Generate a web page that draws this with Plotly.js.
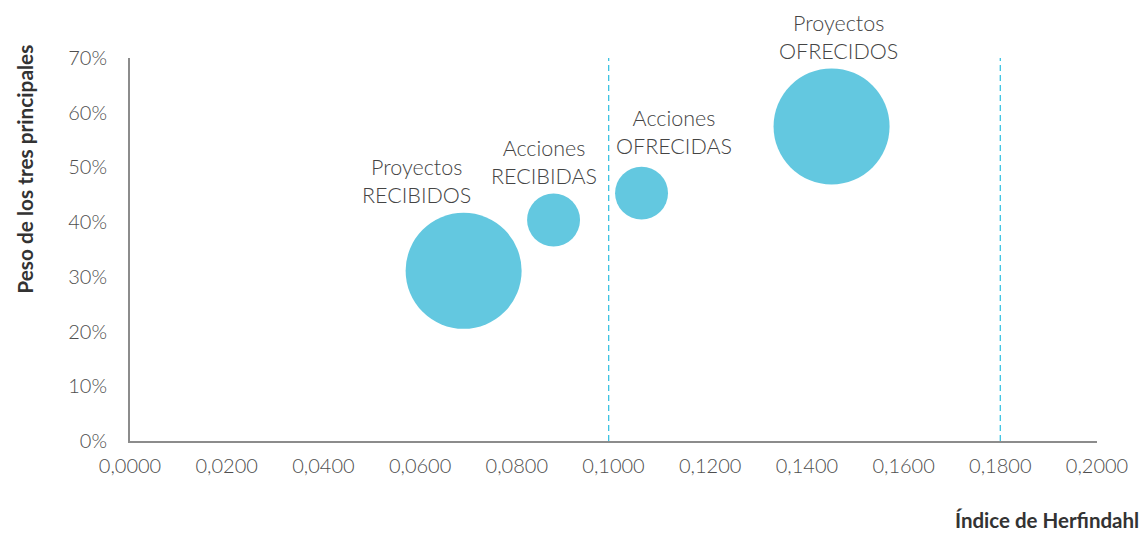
<!DOCTYPE html>
<html><head><meta charset="utf-8">
<script src="https://cdn.plot.ly/plotly-3.0.1.min.js"></script>
<style>html,body{margin:0;padding:0;background:#fff;}#chart{width:1147px;height:535px;}</style>
</head><body><div id="chart"></div>
<script>
// Data
const nombres = ["Proyectos<br>RECIBIDOS", "Acciones<br>RECIBIDAS", "Acciones<br>OFRECIDAS", "Proyectos<br>OFRECIDOS"];
const herfindahl = [0.0690, 0.0876, 0.1058, 0.1451];
const pesoTres = [0.311, 0.404, 0.453, 0.575];
const volumen = [48, 10, 10, 48];
const umbrales = [0.099, 0.18];
const xTicks = [0, 0.02, 0.04, 0.06, 0.08, 0.1, 0.12, 0.14, 0.16, 0.18, 0.2];
const yTicks = [0, 0.1, 0.2, 0.3, 0.4, 0.5, 0.6, 0.7];

// label offsets (px) relative to bubble centres
const labelShiftX = [-47, -10, 32, 7];
const labelShiftY = [90, 58, 61, 89];

const fmtX = v => v.toFixed(4).replace('.', ',');
const fmtY = v => Math.round(v * 100) + '%';

const maxDiam = 116;
const traces = [];
umbrales.forEach(u => traces.push({
  x: [u, u], y: [0, 0.7], mode: 'lines', hoverinfo: 'skip', showlegend: false,
  line: {color: '#3cc3e2', width: 1.3, dash: '6px,4px'}
}));
traces.push({
  x: herfindahl, y: pesoTres, mode: 'markers', showlegend: false,
  marker: {
    size: volumen, sizemode: 'area',
    sizeref: 2 * Math.max(...volumen) / (maxDiam * maxDiam),
    color: '#63c8e0', opacity: 1, line: {width: 0}
  }
});

const font = {family: 'Lato, "Open Sans", sans-serif', size: 20, color: '#4e4e4e', weight: 300};

const annotations = nombres.map((n, i) => ({
  x: herfindahl[i], y: pesoTres[i], xref: 'x', yref: 'y', text: n, showarrow: false,
  xshift: labelShiftX[i], yshift: labelShiftY[i], align: 'center',
  font: {family: font.family, size: 21.5, color: '#444', weight: 300}
}));
annotations.push({
  xref: 'paper', yref: 'paper', x: 1.044, y: -0.205, xanchor: 'right', yanchor: 'middle',
  text: 'Índice de Herfindahl', showarrow: false, borderpad: 0,
  font: {family: 'Lato, sans-serif', size: 20.5, color: '#333', weight: 700}
});
annotations.push({
  xref: 'paper', yref: 'paper', x: -0.11, y: 0.71, xanchor: 'center', yanchor: 'middle',
  text: 'Peso de los tres principales', showarrow: false, textangle: -90,
  font: {family: 'Lato, sans-serif', size: 20.8, color: '#333', weight: 700}
});

const layout = {
  width: 1147, height: 535,
  margin: {l: 130, r: 50, t: 58, b: 94},
  paper_bgcolor: '#fff', plot_bgcolor: '#fff',
  font: font,
  xaxis: {
    range: [0, 0.2], tickvals: xTicks, ticktext: xTicks.map(fmtX),
    showgrid: false, zeroline: false, showline: true, linecolor: '#8c8c8c', linewidth: 2,
    ticks: '', ticklabelstandoff: 6, tickfont: font, fixedrange: true
  },
  yaxis: {
    range: [0, 0.7], tickvals: yTicks, ticktext: yTicks.map(fmtY),
    showgrid: false, zeroline: false, showline: true, linecolor: '#8c8c8c', linewidth: 2,
    ticks: '', ticklabelstandoff: 17, tickfont: font, fixedrange: true
  },
  annotations: annotations
};

Plotly.newPlot('chart', traces, layout, {displayModeBar: false, staticPlot: true});
</script></body></html>
